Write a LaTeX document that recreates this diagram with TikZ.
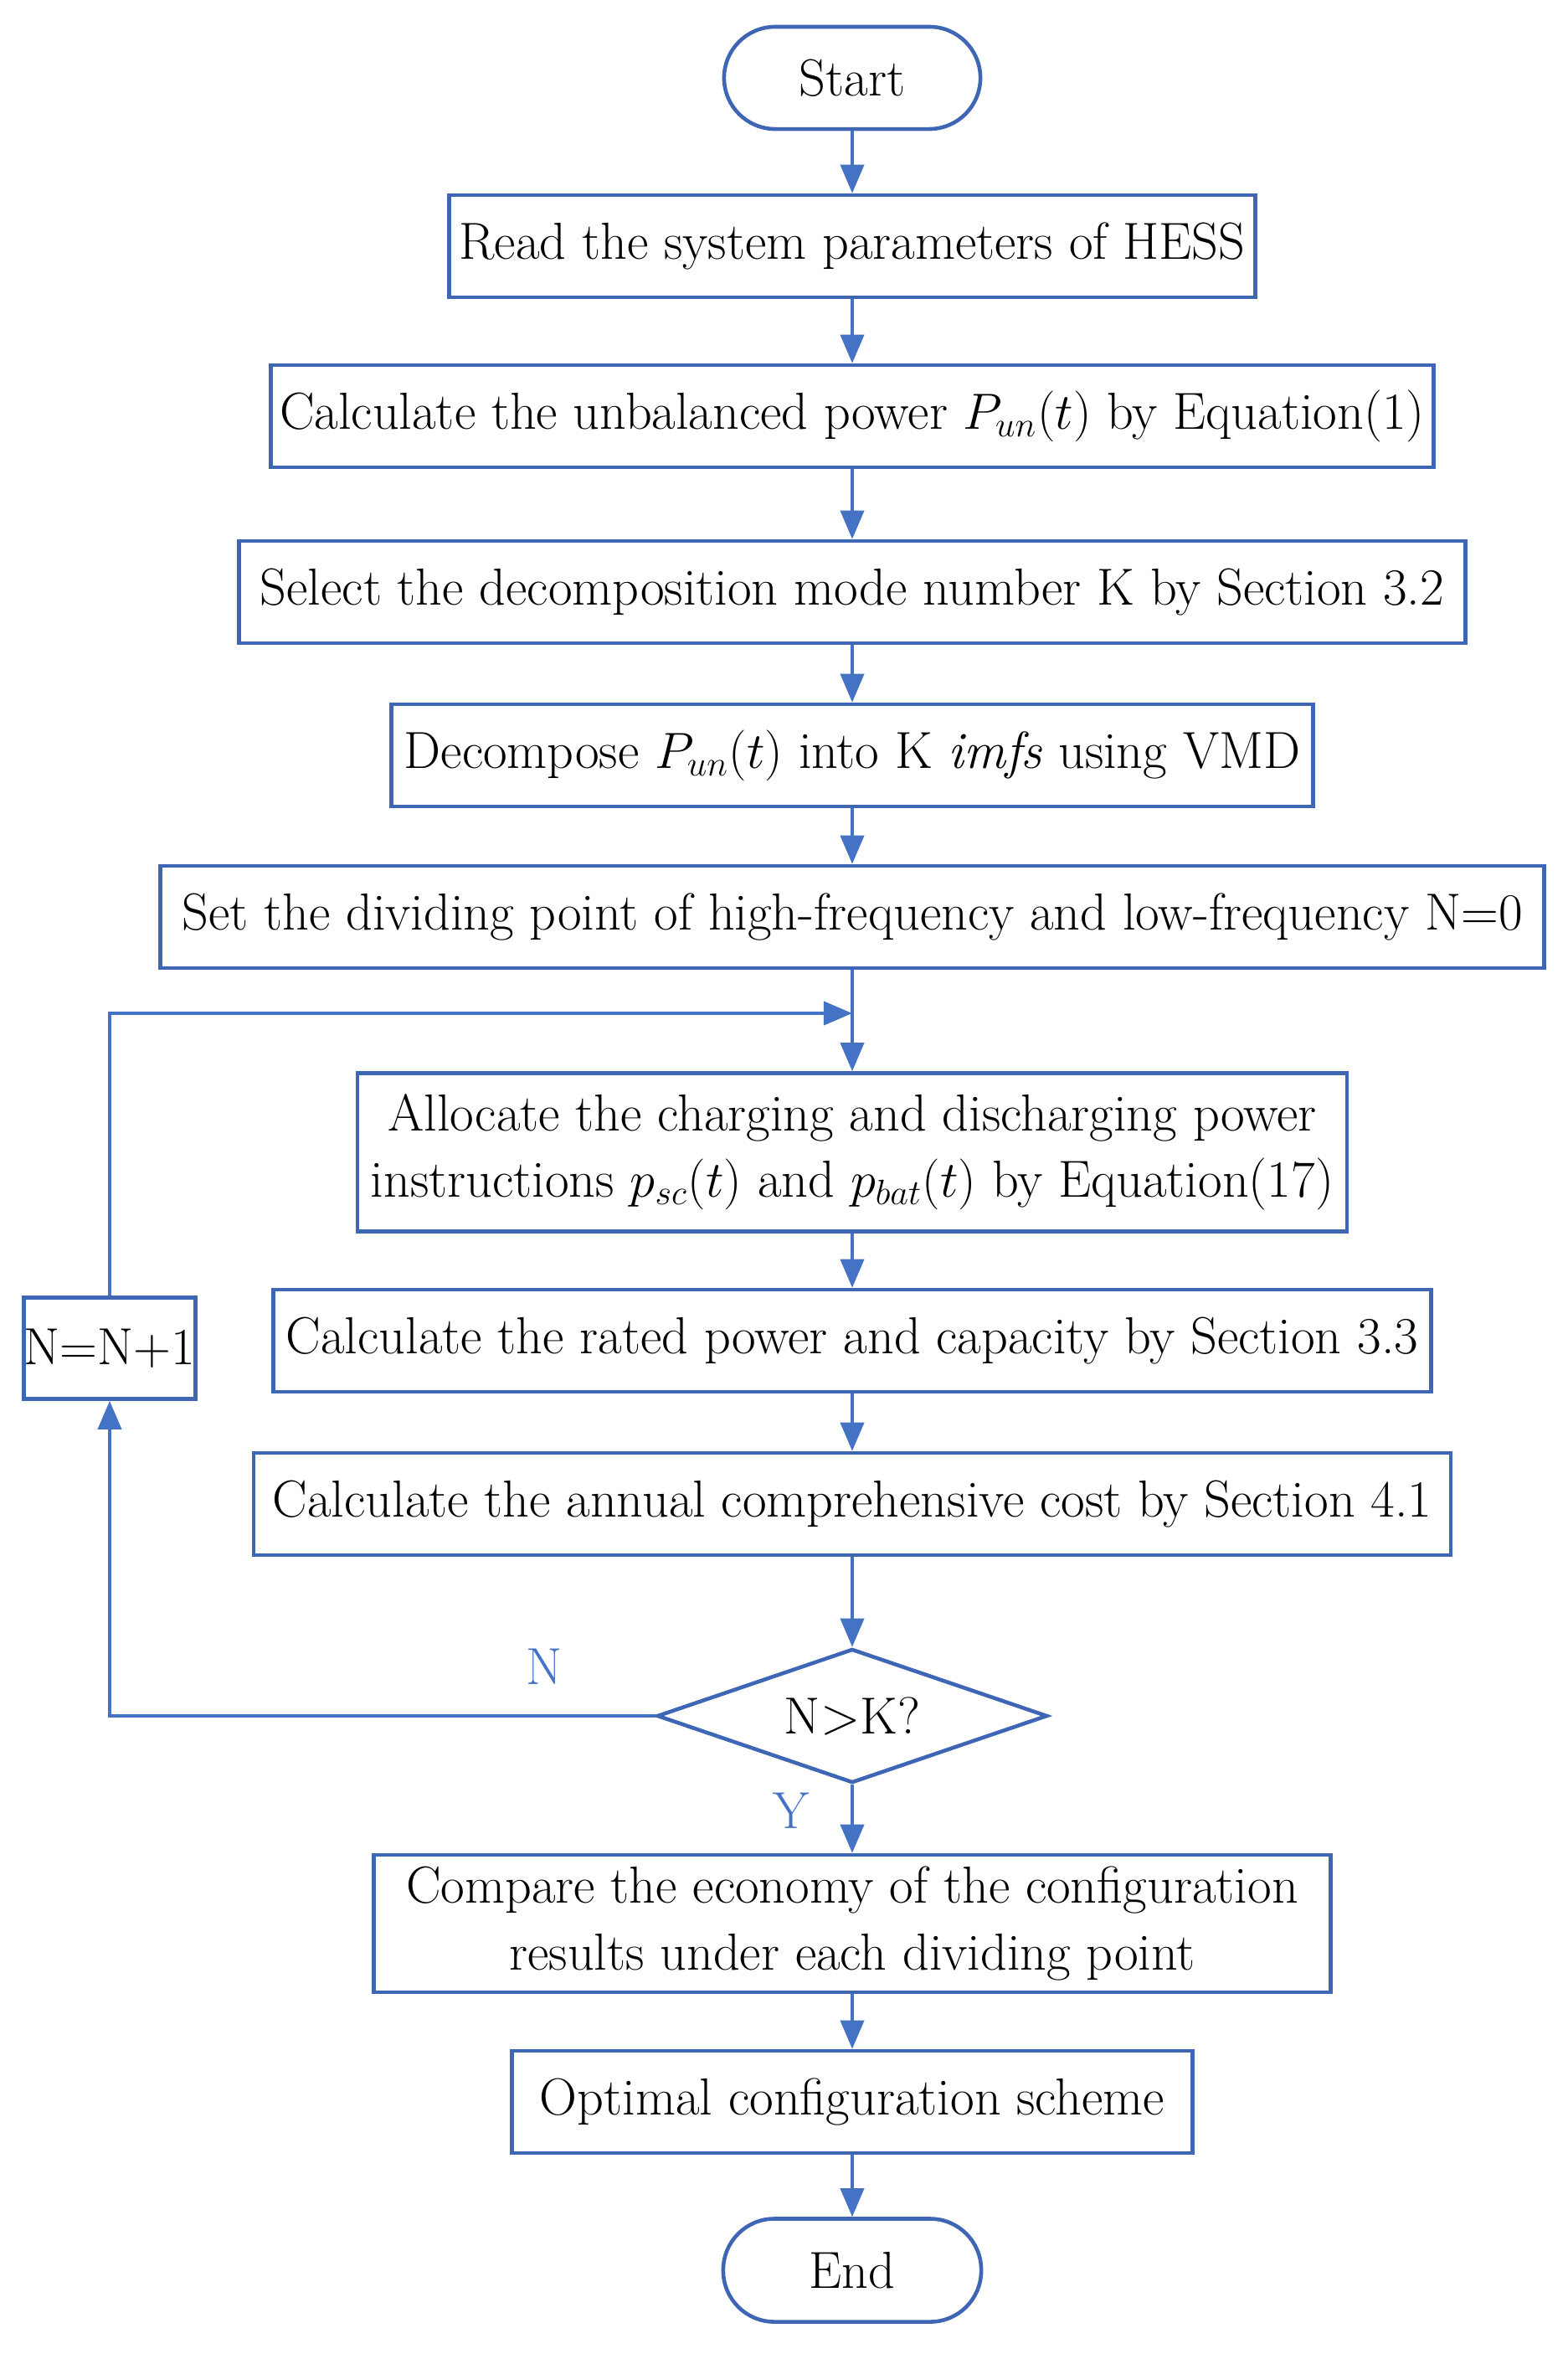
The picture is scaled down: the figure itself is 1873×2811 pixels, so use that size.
\documentclass[tikz,border=0pt]{standalone}
\usepackage{fontspec}
\usetikzlibrary{arrows.meta,shapes.geometric}
\definecolor{boxblue}{HTML}{3F66B5}
\definecolor{arrblue}{HTML}{4472C4}
\newcommand{\fs}{\fontsize{17.7}{22.5}\selectfont}
\begin{document}
\begin{tikzpicture}[x=0.01cm,y=-0.01cm,
  box/.style={draw=boxblue, line width=1.3pt, minimum height=1.22cm, inner sep=0pt, font=\fs, align=center},
  term/.style={box, rounded corners=0.61cm},
  decision/.style={draw=boxblue, line width=1.3pt, diamond, aspect=2.9, inner sep=0pt, font=\fs, minimum width=4.66cm, minimum height=1.6cm},
  conn/.style={draw=arrblue, line width=1.1pt, -{Triangle[length=0.34cm,width=0.28cm]}},
  lab/.style={text=arrblue, font=\fs}]
\useasboundingbox (0,0) rectangle (1873,2811);
\node[term, minimum width=3.06cm] (start) at (1018,93) {Start};
\node[box, minimum width=9.62cm] (read) at (1018,294) {Read the system parameters of HESS};
\node[box, minimum width=13.88cm] (unbal) at (1018,497) {Calculate the unbalanced power $P_{un}(t)$ by Equation(1)};
\node[box, minimum width=14.64cm] (select) at (1018,707) {Select the decomposition mode number K by Section 3.2};
\node[box, minimum width=11.00cm] (decomp) at (1018,902) {Decompose $P_{un}(t)$ into K \textit{imfs} using VMD};
\node[box, minimum width=16.52cm] (set) at (1018,1095) {Set the dividing point of high-frequency and low-frequency N=0};
\coordinate (merge) at (1018,1210);
\node[box, minimum width=11.81cm, minimum height=1.89cm] (alloc) at (1018,1376) {Allocate the charging and discharging power\\ instructions $p_{sc}(t)$ and $p_{bat}(t)$ by Equation(17)};
\node[box, minimum width=13.82cm] (rated) at (1018,1601) {Calculate the rated power and capacity by Section 3.3};
\node[box, minimum width=2.05cm, minimum height=1.21cm] (nn) at (131,1610) {N=N+1};
\node[box, minimum width=14.29cm] (annual) at (1018,1796) {Calculate the annual comprehensive cost by Section 4.1};
\node[decision] (dec) at (1018,2049) {N>K?};
\node[box, minimum width=11.42cm, minimum height=1.64cm] (compare) at (1018,2297) {Compare the economy of the configuration\\ results under each dividing point};
\node[box, minimum width=8.12cm] (optimal) at (1018,2510) {Optimal configuration scheme};
\node[term, minimum width=3.08cm, minimum height=1.23cm] (end) at (1018,2711) {End};
\node[lab] (nlab) at (650,1990) {N};
\node[lab] (ylab) at (945,2162) {Y};
\draw[conn] (start) -- (read);
\draw[conn] (read) -- (unbal);
\draw[conn] (unbal) -- (select);
\draw[conn] (select) -- (decomp);
\draw[conn] (decomp) -- (set);
\draw[conn] (set) -- (alloc);
\draw[conn] (alloc) -- (rated);
\draw[conn] (rated) -- (annual);
\draw[conn] (annual) -- (dec);
\draw[conn] (dec) -- (compare);
\draw[conn] (compare) -- (optimal);
\draw[conn] (optimal) -- (end);
\draw[conn] (dec.west) -| (nn.south);
\draw[conn] (nn.north) |- (merge);
\end{tikzpicture}
\end{document}
